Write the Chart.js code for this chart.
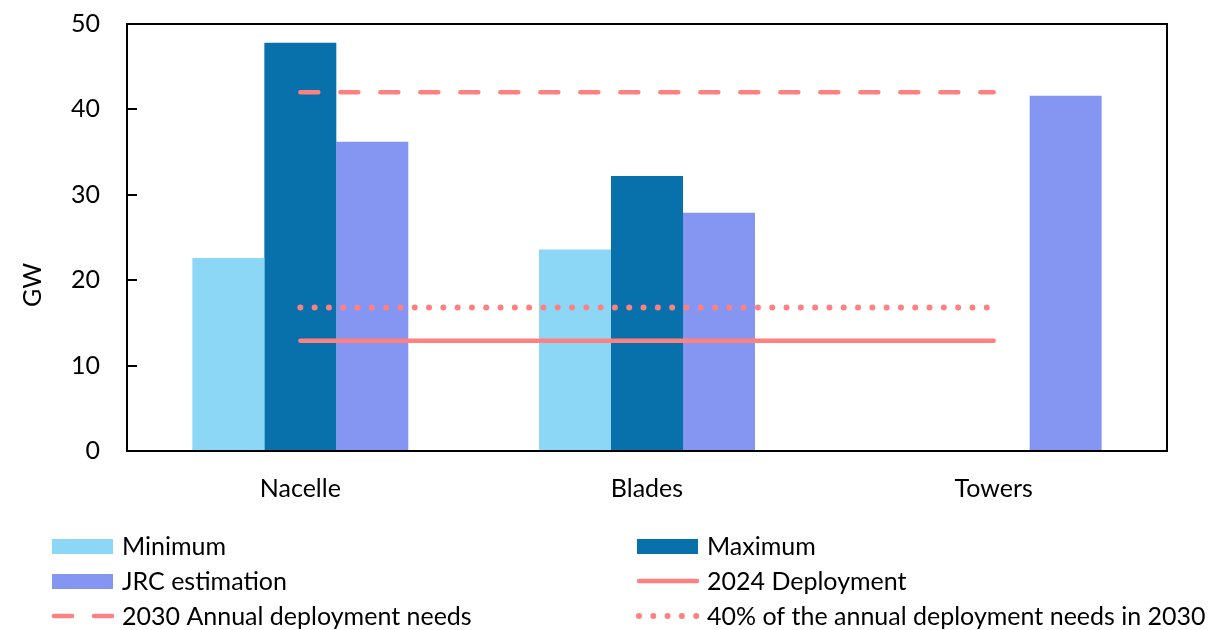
<!DOCTYPE html>
<html lang="en">
<head>
  <meta charset="UTF-8"/>
  <title>Wind component manufacturing capacity</title>
  <script src="https://cdn.jsdelivr.net/npm/chart.js"></script>
  <style>
    html, body { margin: 0; padding: 0; background: #fff; }
    .chart-container { width: 1209px; height: 630px; }
  </style>
</head>
<body>
  <div class="chart-container">
    <canvas id="capacityChart"></canvas>
  </div>

  <script>
    // Data (GW)
    const categories = ['Nacelle', 'Blades', 'Towers'];
    const minimum = [22.6, 23.6, null];
    const maximum = [47.8, 32.2, null];
    const jrcEstimation = [36.2, 27.9, 41.6];
    const deployment2024 = [12.9, 12.9, 12.9];
    const needs2030 = [42, 42, 42];
    const needs2030Share40 = [16.8, 16.8, 16.8];
    const yTicks = [0, 10, 20, 30, 40, 50];

    const FONT = 'Lato, "Open Sans", sans-serif';
    const RED = '#FF8080';

    // Plot frame, inward y ticks, axis title and a two-column legend
    const framePlugin = {
      id: 'frame',
      afterDatasetsDraw(chart) {
        const { ctx, chartArea: a, scales: { y } } = chart;
        ctx.save();
        ctx.strokeStyle = '#000';
        ctx.lineWidth = 2;
        ctx.strokeRect(a.left, a.top, a.right - a.left, a.bottom - a.top);
        ctx.beginPath();
        yTicks.forEach(v => {
          const py = Math.round(y.getPixelForValue(v));
          ctx.moveTo(a.left, py);
          ctx.lineTo(a.left + 10, py);
        });
        ctx.stroke();
        ctx.restore();
      },
      afterDraw(chart) {
        const { ctx } = chart;
        ctx.save();
        ctx.fillStyle = '#000';
        ctx.font = '25px ' + FONT;
        ctx.textAlign = 'center';
        ctx.textBaseline = 'middle';
        ctx.translate(33, 285);
        ctx.rotate(-Math.PI / 2);
        ctx.fillText('GW', 0, 0);
        ctx.restore();

        const cols = [52, 637], rows = [546, 581, 616];
        ctx.save();
        ctx.font = '25px ' + FONT;
        ctx.textBaseline = 'middle';
        ctx.textAlign = 'left';
        chart.data.datasets.forEach((ds, i) => {
          const x = cols[i % 2], yy = rows[Math.floor(i / 2)];
          if (ds.type === 'line') {
            ctx.strokeStyle = ds.borderColor;
            ctx.lineWidth = ds.borderWidth;
            ctx.lineCap = 'round';
            ctx.setLineDash(ds.borderDash || []);
            ctx.beginPath();
            ctx.moveTo(x + 2, yy);
            ctx.lineTo(x + 60, yy);
            ctx.stroke();
            ctx.setLineDash([]);
          } else {
            ctx.fillStyle = ds.backgroundColor;
            ctx.fillRect(x, yy - 7, 61, 15);
          }
          ctx.fillStyle = '#000';
          ctx.fillText(ds.label, x + 70, yy + 1);
        });
        ctx.restore();
      }
    };

    const lineDs = (label, data, dash, width) => ({
      type: 'line',
      label,
      data,
      borderColor: RED,
      backgroundColor: RED,
      borderWidth: width,
      borderDash: dash,
      borderCapStyle: 'round',
      pointRadius: 0,
      fill: false,
      order: 0
    });

    const barDs = (label, data, color) => ({
      type: 'bar',
      label,
      data,
      backgroundColor: color,
      barPercentage: 1,
      categoryPercentage: 0.623,
      order: 1
    });

    new Chart(document.getElementById('capacityChart'), {
      data: {
        labels: categories,
        datasets: [
          barDs('Minimum', minimum, '#8DD7F6'),
          barDs('Maximum', maximum, '#0870AA'),
          barDs('JRC estimation', jrcEstimation, '#8496F2'),
          lineDs('2024 Deployment', deployment2024, [], 4.5),
          lineDs('2030 Annual deployment needs', needs2030, [18, 22], 4.5),
          lineDs('40% of the annual deployment needs in 2030', needs2030Share40, [0, 14.3], 6)
        ]
      },
      options: {
        responsive: true,
        maintainAspectRatio: false,
        animation: false,
        layout: { padding: { left: 0, right: 42, top: 24, bottom: 0 } },
        plugins: { legend: { display: false }, tooltip: { enabled: false } },
        scales: {
          x: {
            grid: { display: false, drawTicks: false },
            border: { display: false },
            ticks: { color: '#000', font: { family: FONT, size: 25 }, padding: 23 },
            afterFit(scale) {
              scale.height = 179;
              scale.paddingLeft = 0;
              scale.paddingRight = 0;
            }
          },
          y: {
            min: 0,
            max: 50,
            grid: { display: false, drawTicks: false },
            border: { display: false },
            ticks: {
              stepSize: 10,
              color: '#000',
              font: { family: FONT, size: 25 },
              padding: 27
            },
            afterFit(scale) {
              scale.width = 127;
              scale.paddingTop = 0;
              scale.paddingBottom = 0;
            }
          }
        }
      },
      plugins: [framePlugin]
    });
  </script>
</body>
</html>
